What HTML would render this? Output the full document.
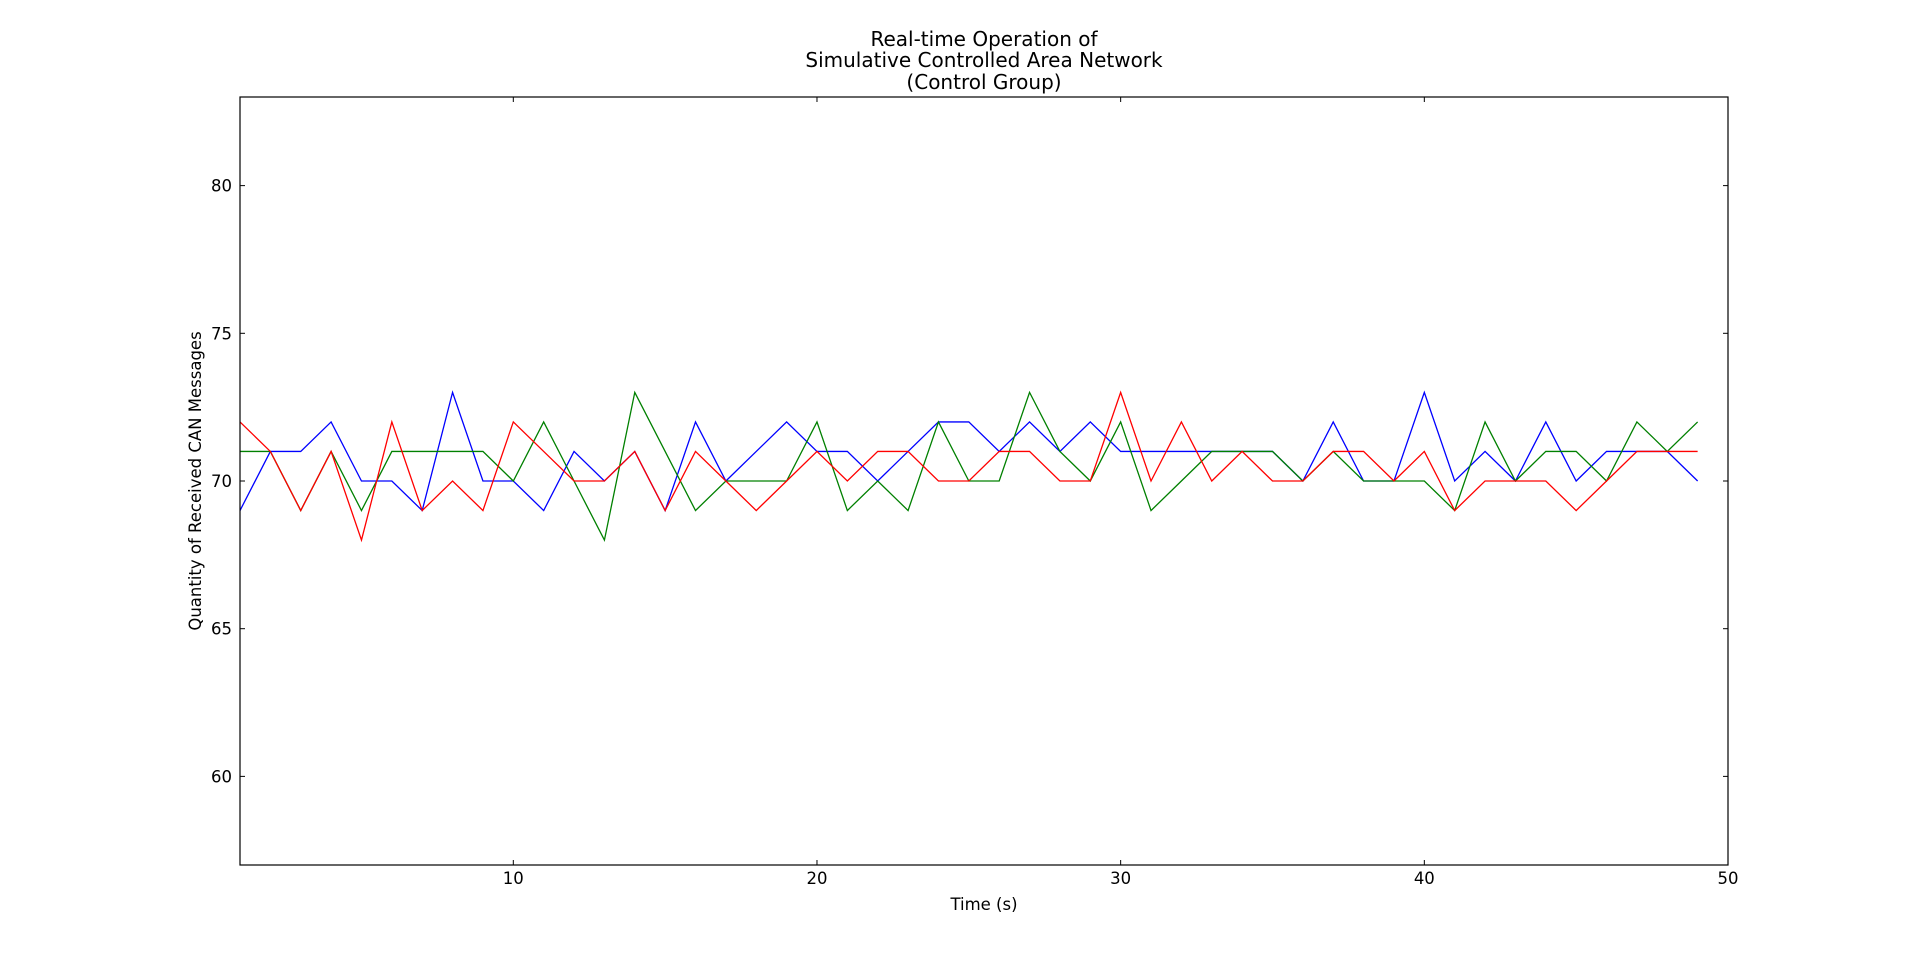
<!DOCTYPE html>
<html><head><meta charset="utf-8"><style>
html,body{margin:0;padding:0;background:#fff;}
svg text{font-family:"DejaVu Sans","Liberation Sans",sans-serif;fill:#000;}
</style></head><body>
<svg id="chart" width="1920" height="961" xmlns="http://www.w3.org/2000/svg">
<rect width="1920" height="961" fill="#fff"/>
<g id="title" font-size="20" text-anchor="middle">
<text x="984" y="46">Real-time Operation of</text>
<text x="984" y="67">Simulative Controlled Area Network</text>
<text x="984" y="89">(Control Group)</text>
</g>
<g id="series"></g>
<g id="axes"></g>
</svg>
<script>
const xValues = [1,2,3,4,5,6,7,8,9,10,11,12,13,14,15,16,17,18,19,20,21,22,23,24,25,26,27,28,29,30,31,32,33,34,35,36,37,38,39,40,41,42,43,44,45,46,47,48,49];
const blueValues = [69,71,71,72,70,70,69,73,70,70,69,71,70,71,69,72,70,71,72,71,71,70,71,72,72,71,72,71,72,71,71,71,71,71,71,70,72,70,70,73,70,71,70,72,70,71,71,71,70];
const greenValues = [71,71,69,71,69,71,71,71,71,70,72,70,68,73,71,69,70,70,70,72,69,70,69,72,70,70,73,71,70,72,69,70,71,71,71,70,71,70,70,70,69,72,70,71,71,70,72,71,72];
const redValues = [72,71,69,71,68,72,69,70,69,72,71,70,70,71,69,71,70,69,70,71,70,71,71,70,70,71,71,70,70,73,70,72,70,71,70,70,71,71,70,71,69,70,70,70,69,70,71,71,71];
const xTicks = [10,20,30,40,50];
const yTicks = [60,65,70,75,80];
const xDomain = [1,50], yDomain = [57,83];
const L=240,R=1728,T=97,B=865;
const NS="http://www.w3.org/2000/svg";
const xs=v=>L+(v-xDomain[0])/(xDomain[1]-xDomain[0])*(R-L);
const ys=v=>B-(v-yDomain[0])/(yDomain[1]-yDomain[0])*(B-T);
function mk(tag,attrs,parent){const e=document.createElementNS(NS,tag);for(const k in attrs)e.setAttribute(k,attrs[k]);parent.appendChild(e);return e;}
const sg=document.getElementById('series');
[['blue',blueValues,'#0000ff'],['green',greenValues,'#008000'],['red',redValues,'#ff0000']].forEach(([n,vals,c])=>{
  const p=mk('polyline',{points:vals.map((v,i)=>xs(xValues[i])+','+ys(v)).join(' '),fill:'none',stroke:c,'stroke-width':1.3},sg);
  
  
});
const ax=document.getElementById('axes');
const frame=mk('rect',{x:L,y:T,width:R-L,height:B-T,fill:'none',stroke:'#000','stroke-width':1.2},ax);


xTicks.forEach(t=>{
  const x=xs(t);
  mk('line',{x1:x,x2:x,y1:B,y2:B-5,stroke:'#000'},ax);
  mk('line',{x1:x,x2:x,y1:T,y2:T+5,stroke:'#000'},ax);
  const tx=mk('text',{x:x,y:884,'font-size':16.5,'text-anchor':'middle'},ax);
  tx.textContent=t;
  
  
});
yTicks.forEach(t=>{
  const y=ys(t);
  mk('line',{x1:L,x2:L+5,y1:y,y2:y,stroke:'#000'},ax);
  mk('line',{x1:R,x2:R-5,y1:y,y2:y,stroke:'#000'},ax);
  const tx=mk('text',{x:232,y:y+6,'font-size':16.5,'text-anchor':'end'},ax);
  tx.textContent=t;
  
  
});
const xt=mk('text',{x:984,y:910,'font-size':16.5,'text-anchor':'middle'},ax);
xt.textContent='Time (s)';


const yt=mk('text',{x:0,y:0,'font-size':16.5,'text-anchor':'middle',transform:'translate(201,481) rotate(-90)'},ax);
yt.textContent='Quantity of Received CAN Messages';


</script>
</body></html>
